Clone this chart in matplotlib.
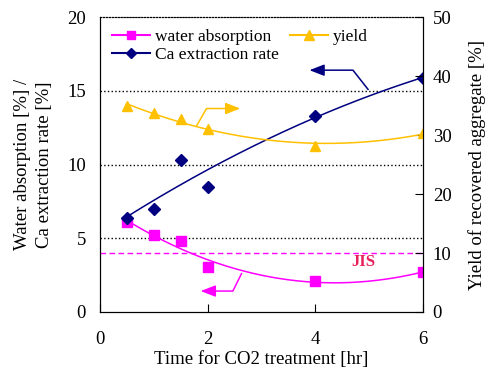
import numpy as np
import matplotlib
matplotlib.use('Agg')
import matplotlib.pyplot as plt

plt.rcParams['font.family'] = ['Liberation Serif', 'DejaVu Serif']

# data
time_hr = [0.5, 1.0, 1.5, 2.0, 4.0, 6.0]
water_absorption = [6.1, 5.2, 4.8, 3.05, 2.1, 2.7]
ca_extraction = [6.4, 7.0, 10.3, 8.5, 13.3, 15.9]
yield_pct = [34.9, 33.7, 32.7, 31.0, 28.2, 30.3]
jis_limit = 4.0

c_water = '#FF00FF'
c_ca = '#000080'
c_yield = '#FFC000'

fig = plt.figure(figsize=(4.97, 3.8), dpi=100)
ax = fig.add_axes([0.201, 0.179, 0.650, 0.776])
ax2 = ax.twinx()

# trend curves
xs = np.linspace(0.5, 6, 200)
p_w = np.polyfit(time_hr, water_absorption, 3)
p_c = np.polyfit(time_hr, ca_extraction, 2)
p_y = np.polyfit(time_hr, yield_pct, 2)
ax.plot(xs, np.polyval(p_w, xs), color=c_water, lw=1.1)
ax.plot(xs, np.polyval(p_c, xs), color=c_ca, lw=1.1)
ax2.plot(xs, np.polyval(p_y, xs), color=c_yield, lw=1.1)

# points
ax.plot(time_hr, water_absorption, 's', color=c_water, ms=7.5)
ax.plot(time_hr, ca_extraction, 'D', color=c_ca, ms=6.5)
ax2.plot(time_hr, yield_pct, '^', color=c_yield, ms=7.5)

# legend proxies with line through the marker
lw_ = plt.Line2D([], [], color=c_water, marker='s', ms=6, lw=1.5)
lc_ = plt.Line2D([], [], color=c_ca, marker='D', ms=5.5, lw=1.5)
ly_ = plt.Line2D([], [], color=c_yield, marker='^', ms=7, lw=1.5)

# JIS line
ax.axhline(jis_limit, color=c_water, ls='--', lw=1.0, dashes=(4, 2.5))
ax.text(4.9, 3.4, 'JIS', color='#E8205A', fontsize=12, fontweight='bold',
        ha='center', va='center')

# gridlines
for g in [5, 10, 15]:
    ax.axhline(g, color='black', ls=':', lw=1.0, zorder=0)

# arrows
ax.plot([4.98, 4.7, 3.95], [15.1, 16.4, 16.4], color=c_ca, lw=1.1)
ax.annotate('', xy=(3.84, 16.4), xytext=(4.1, 16.4),
            arrowprops=dict(arrowstyle='-|>,head_length=0.9,head_width=0.35',
                            color=c_ca, lw=1.1))
ax.plot([1.8, 1.98, 2.5], [12.65, 13.8, 13.8], color=c_yield, lw=1.1)
ax.annotate('', xy=(2.66, 13.8), xytext=(2.4, 13.8),
            arrowprops=dict(arrowstyle='-|>,head_length=0.9,head_width=0.35',
                            color=c_yield, lw=1.1))
ax.plot([2.63, 2.47, 1.95], [2.6, 1.42, 1.42], color=c_water, lw=1.1)
ax.annotate('', xy=(1.82, 1.42), xytext=(2.1, 1.42),
            arrowprops=dict(arrowstyle='-|>,head_length=0.9,head_width=0.35',
                            color=c_water, lw=1.1))

ax.set_xlim(0, 6)
ax.set_ylim(0, 20)
ax2.set_ylim(0, 50)
ax.set_xticks([0, 2, 4, 6])
ax.set_yticks([0, 5, 10, 15, 20])
ax2.set_yticks([0, 10, 20, 30, 40, 50])

ax.tick_params(direction='in', labelsize=13.5, length=6)
ax2.tick_params(direction='in', labelsize=13.5, length=6)
ax.tick_params(axis='y', length=0, pad=10)
ax.tick_params(axis='x', pad=14)
ax2.tick_params(axis='y', pad=7)

ax.spines['top'].set_linestyle(':')
ax2.spines['top'].set_linestyle(':')

ax.set_xlabel('Time for CO2 treatment [hr]', fontsize=13.5, labelpad=2)
ax.set_ylabel('Water absorption [%] /\nCa extraction rate [%]', fontsize=13.5,
              linespacing=1.45, labelpad=10)
ax2.set_ylabel('Yield of recovered aggregate [%]', fontsize=13.5, labelpad=12)

ax.legend([lw_, lc_, ly_], ['water absorption', 'Ca extraction rate', 'yield'],
          ncol=2, loc='upper left', frameon=False, fontsize=12.5,
          handlelength=2.2, borderaxespad=0.3, labelspacing=0.1,
          columnspacing=0.6, handletextpad=0.3)

fig.savefig('out.png', dpi=100)
